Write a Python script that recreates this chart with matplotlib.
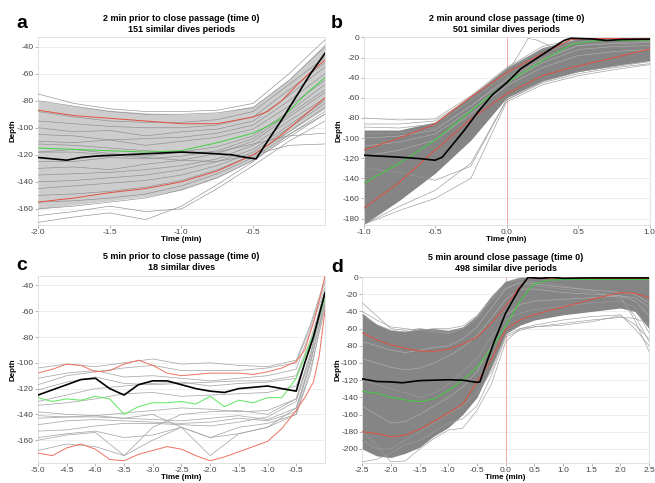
import matplotlib
matplotlib.use('Agg')
import matplotlib.pyplot as plt
import numpy as np

plt.rcParams['font.family'] = ['Liberation Sans', 'DejaVu Sans']
plt.rcParams['axes.unicode_minus'] = False

# ---------------- panel a: 2 min prior ----------------
a_t = [-2.0, -1.75, -1.5, -1.25, -1.0, -0.75, -0.5, -0.4, -0.3, -0.2, -0.1, 0.0]
a_red_hi = [-87, -91, -93, -95, -97, -97, -92, -88, -80, -69, -59, -50]
a_green = [-115, -116, -117, -118, -117, -111, -104, -99, -93, -82, -72, -63]
a_red_lo = [-155, -152, -148, -145, -140, -132, -120, -113, -105, -96, -87, -78]
a_black_t = [-2.0, -1.9, -1.8, -1.7, -1.6, -1.4, -1.2, -1.0, -0.8, -0.65, -0.55,
             -0.48, -0.4, -0.3, -0.2, -0.1, 0.0]
a_black = [-122, -123, -124, -122, -121, -120, -119, -118, -119, -120, -122,
           -123, -110, -94, -77, -60, -45]
a_grey_t = [-2.0, -1.75, -1.5, -1.25, -1.0, -0.75, -0.5, -0.25, 0.0]
a_core_hi = [-80, -84, -87, -89, -90, -89, -84, -64, -38]
a_core_lo = [-160, -157, -154, -151, -146, -137, -124, -103, -86]
a_grey = [
    [-75, -82, -86, -88, -88, -87, -82, -60, -35],
    [-80, -84, -88, -90, -90, -89, -85, -65, -40],
    [-88, -92, -95, -96, -96, -94, -88, -68, -48],
    [-95, -97, -99, -100, -100, -98, -92, -72, -52],
    [-100, -103, -102, -106, -103, -101, -95, -76, -55],
    [-105, -106, -109, -108, -107, -104, -98, -80, -60],
    [-110, -111, -109, -113, -110, -107, -101, -84, -65],
    [-118, -116, -119, -121, -118, -114, -106, -88, -68],
    [-125, -125, -122, -123, -121, -117, -108, -90, -72],
    [-130, -129, -131, -127, -124, -119, -110, -92, -74],
    [-135, -134, -133, -131, -128, -123, -113, -95, -78],
    [-140, -139, -137, -135, -131, -125, -116, -98, -80],
    [-145, -143, -141, -139, -135, -128, -118, -100, -82],
    [-150, -149, -147, -144, -139, -131, -120, -103, -85],
    [-155, -154, -152, -149, -143, -134, -122, -105, -88],
    [-160, -158, -155, -152, -146, -137, -124, -107, -90],
    [-165, -162, -158, -162, -160, -145, -128, -110, -95],
    [-170, -166, -163, -168, -158, -142, -125, -105, -90],
    [-118, -118, -120, -122, -124, -125, -120, -113, -112],
    [-112, -113, -115, -117, -118, -118, -112, -106, -104],
]

# ---------------- panel b: 2 min around ----------------
b_t = [-1.0, -0.75, -0.5, -0.25, 0.0, 0.25, 0.45, 0.6, 0.75, 1.0]
b_red_hi = [-112, -100, -86, -59, -35, -16, -2, -1, -1, -1]
b_green = [-145, -125, -102, -73, -45, -23, -7, -3.5, -3, -2.5]
b_red_lo = [-170, -144, -112, -81, -56, -38, -30, -25, -20, -11.5]
b_black_t = [-1.0, -0.75, -0.6, -0.5, -0.45, -0.3, -0.2, -0.1, 0.0, 0.1, 0.25,
             0.4, 0.45, 0.6, 0.7, 0.8, 1.0]
b_black = [-117, -119, -120.5, -122, -119, -93, -74, -57, -45, -31, -17,
           -3, -0.7, -1.5, -3, -2, -1.6]
b_grey_t = [-1.0, -0.75, -0.5, -0.25, 0.0, 0.25, 0.5, 0.75, 1.0]
b_core_hi = [-92, -92, -84, -58, -30, -10, -1, -1, -1]
b_core_lo = [-186, -162, -135, -102, -60, -43, -34, -28, -23]
b_grey = [
    [-80, -82, -81, -58, -30, -9, -1, -1, -1],
    [-86, -86, -83, -60, -32, -12, -2, -1, -1],
    [-89, -90, -86, -63, -36, -15, -4, -2, -2],
    [-96, -95, -90, -68, -40, -20, -8, -5, -4],
    [-186, -168, -152, -125, -62, -45, -36, -30, -26],
    [-186, -172, -160, -140, -64, -47, -38, -32, -27],
    [-130, -134, -142, -128, -62, -44, -34, -29, -24],
]
b_streak = [
    [-100, -98, -92, -68, -42, -22, -8, -6, -5],
    [-108, -104, -96, -72, -45, -25, -12, -9, -8],
    [-118, -112, -102, -76, -48, -30, -18, -14, -12],
]
b_spike_t = [-0.05, 0.05, 0.15, 0.2, 0.3]
b_spike = [-38, -25, -1, -2, -8]

# ---------------- panel c: 5 min prior ----------------
c_t = [-5.0, -4.75, -4.5, -4.25, -4.0, -3.75, -3.5, -3.25, -3.0, -2.75, -2.5,
       -2.25, -2.0, -1.75, -1.5, -1.25, -1.0, -0.75, -0.5, -0.35, -0.2, -0.1, 0.0]
c_red_hi = [-108, -105, -101, -102, -107, -106, -101, -98, -102, -108, -110,
            -109, -108, -108, -108, -109, -107, -104, -99, -90, -69, -52, -33]
c_green = [-127, -130, -128, -129, -126, -128, -140, -134, -131, -131, -130,
           -132, -126, -134, -129, -131, -127, -127, -112, -95, -78, -64, -50]
c_red_lo = [-170, -172, -166, -163, -167, -175, -176, -171, -168, -165, -167,
            -172, -176, -173, -169, -165, -161, -151, -137, -127, -115, -95, -60]
c_black = [-125, -121, -117, -113, -112, -120, -125, -117, -114, -114, -117,
           -120, -122, -123, -120, -119, -118, -120, -122, -100, -80, -63, -46]
c_grey_t = [-5.0, -4.5, -4.0, -3.5, -3.0, -2.5, -2.0, -1.5, -1.0, -0.5, -0.25, 0.0]
c_grey = [
    [-104, -101, -103, -100, -97, -101, -100, -102, -103, -98, -70, -35],
    [-117, -110, -107, -104, -102, -106, -106, -106, -104, -100, -72, -38],
    [-112, -108, -106, -111, -110, -112, -114, -112, -110, -105, -75, -42],
    [-121, -115, -111, -116, -117, -116, -115, -114, -114, -110, -82, -45],
    [-133, -131, -128, -124, -123, -126, -125, -124, -123, -118, -88, -48],
    [-138, -140, -141, -139, -137, -135, -136, -138, -137, -128, -92, -50],
    [-143, -142, -141, -143, -144, -145, -143, -141, -144, -135, -98, -55],
    [-148, -145, -144, -145, -146, -147, -146, -143, -145, -138, -100, -52],
    [-153, -152, -149, -147, -147, -148, -149, -146, -142, -130, -95, -48],
    [-160, -156, -154, -172, -150, -140, -138, -137, -140, -128, -94, -45],
    [-168, -163, -165, -172, -160, -150, -158, -155, -150, -135, -100, -52],
    [-158, -155, -153, -158, -156, -150, -158, -150, -147, -140, -105, -58],
    [-141, -142, -142, -143, -140, -150, -172, -155, -150, -140, -108, -55],
    [-130, -125, -120, -118, -116, -115, -118, -116, -115, -112, -85, -44],
]

# ---------------- panel d: 5 min around ----------------
d_t = [-2.5, -2.25, -2.0, -1.75, -1.5, -1.25, -1.0, -0.75, -0.5, -0.25, 0.0,
       0.25, 0.4, 0.5, 0.75, 1.0, 1.5, 2.0, 2.25, 2.5]
d_red_hi = [-65, -73, -79, -83, -86, -86.5, -84, -78, -70, -54, -34,
            -11, -1, -1, -1.5, -1.5, -1.5, -1.5, -1.5, -1.5]
d_green = [-133, -135, -140, -143, -145, -142, -132, -120, -105, -83, -57,
           -28, -15, -8, -3.5, -3, -3, -3, -3, -3]
d_red_lo = [-180, -182, -186, -184, -177, -168, -158, -148, -122, -96, -61,
            -50, -46, -44, -39, -35, -26, -18, -19, -24]
d_black_t = [-2.5, -2.25, -2.0, -1.8, -1.5, -1.25, -1.0, -0.75, -0.5, -0.45,
             -0.35, -0.2, 0.0, 0.23, 0.39, 0.6, 0.8, 1.0, 1.5, 2.0, 2.5]
d_black = [-118.5, -121.5, -122, -123, -120.5, -120, -119.5, -120, -122.5, -122,
           -103, -75, -42, -14.6, -0.5, -1.5, -0.5, -1.5, -1, -1, -1]
d_grey_t = [-2.5, -2.25, -2.0, -1.75, -1.5, -1.25, -1.0, -0.75, -0.5, -0.25,
            0.0, 0.25, 0.5, 1.0, 1.5, 2.0, 2.25, 2.5]
d_core_hi = [-42, -55, -62, -63, -60, -60, -62, -58, -45, -22, -5,
             -0.5, -0.5, -0.5, -0.5, -0.5, -0.5, -0.5]
d_core_lo = [-200, -208, -210, -205, -198, -185, -175, -160, -140, -105, -66,
             -56, -50, -44, -40, -36, -40, -60]
d_grey = [
    [-30, -45, -60, -62, -60, -62, -65, -60, -48, -26, -6, -1, -1, -1, -1, -1, -1, -2],
    [-215, -212, -205, -195, -190, -180, -170, -165, -150, -115, -70, -62, -58, -54, -50, -47, -48, -55],
    [-180, -195, -215, -214, -200, -188, -178, -176, -155, -125, -75, -60, -56, -50, -46, -44, -60, -80],
    [-40, -50, -58, -60, -62, -64, -66, -60, -46, -28, -12, -8, -10, -14, -18, -22, -50, -87],
    [-45, -55, -62, -64, -62, -60, -60, -57, -45, -24, -6, -3, -6, -10, -16, -25, -45, -75],
    [-120, -125, -130, -135, -140, -135, -125, -110, -95, -70, -50, -42, -38, -34, -30, -28, -35, -65],
    [-190, -200, -200, -190, -180, -170, -160, -150, -135, -110, -68, -60, -58, -56, -52, -45, -55, -72],
]
d_streak = [
    [-75, -80, -85, -88, -85, -82, -80, -72, -58, -36, -14, -6, -8, -12, -15, -18, -20, -30],
    [-95, -100, -105, -108, -106, -100, -92, -82, -68, -48, -26, -14, -14, -18, -20, -22, -24, -35],
    [-150, -160, -170, -168, -160, -150, -140, -128, -110, -80, -45, -32, -28, -26, -24, -22, -28, -45],
]

RED = '#e2513f'
GREEN = '#3fcf3f'


def style_axes(ax, xlim, ylim, xticks, yticks):
    ax.set_xlim(xlim)
    ax.set_ylim(ylim)
    ax.set_xticks(xticks)
    ax.set_xticklabels([f'{v:.1f}' for v in xticks])
    ax.set_yticks(yticks)
    ax.grid(axis='y', color='#ebebeb', lw=0.6)
    ax.set_axisbelow(True)
    for s in ax.spines.values():
        s.set_color('#dcdcdc')
        s.set_linewidth(0.6)
    ax.tick_params(labelsize=6, colors='#444444', length=2, width=0.5, pad=1)
    ax.tick_params(color='#999999')
    ax.set_xlabel('Time (min)', fontsize=5.8, fontweight='bold', labelpad=0)
    ax.set_ylabel('Depth', fontsize=5.8, fontweight='bold', labelpad=0)


def draw_panel(ax, grey_t, grey, core_hi, core_lo, core_col, grey_col,
               t, red_hi, green, red_lo, black_t, black):
    ax.axvline(0, color='#f2a9a3', lw=0.7, zorder=1)
    ax.fill_between(grey_t, core_lo, core_hi, color=core_col, lw=0, zorder=2)
    for g in grey:
        ax.plot(grey_t, g, color=grey_col, lw=0.45, zorder=3)
    ax.plot(t, red_hi, color=RED, lw=0.7, zorder=4)
    ax.plot(t, red_lo, color=RED, lw=0.7, zorder=4)
    ax.plot(t, green, color=GREEN, lw=0.7, zorder=4)
    ax.plot(black_t, black, color='black', lw=1.2, zorder=5)


fig = plt.figure(figsize=(6.55, 4.83), dpi=100)
ax_a = fig.add_axes([0.058, 0.534, 0.438, 0.389])
ax_b = fig.add_axes([0.555, 0.534, 0.437, 0.389])
ax_c = fig.add_axes([0.058, 0.042, 0.438, 0.387])
ax_d = fig.add_axes([0.553, 0.042, 0.438, 0.385])

draw_panel(ax_a, a_grey_t, a_grey, a_core_hi, a_core_lo, '#cdcdcd', '#8e8e8e',
           a_t, a_red_hi, a_green, a_red_lo, a_black_t, a_black)
style_axes(ax_a, (-2.0, 0.0), (-172, -33), [-2.0, -1.5, -1.0, -0.5],
           range(-160, -39, 20))
ax_a.set_title('2 min prior to close passage (time 0)\n151 similar dives periods',
               fontsize=6.5, fontweight='bold', pad=4, linespacing=1.3)

draw_panel(ax_b, b_grey_t, b_grey, b_core_hi, b_core_lo, '#858585', '#999999',
           b_t, b_red_hi, b_green, b_red_lo, b_black_t, b_black)
for s in b_streak:
    ax_b.plot(b_grey_t, s, color='#b5b5b5', lw=0.4, zorder=3)
ax_b.plot(b_spike_t, b_spike, color='#999999', lw=0.45, zorder=3)
style_axes(ax_b, (-1.0, 1.0), (-186.5, 0.3), [-1.0, -0.5, 0.0, 0.5, 1.0],
           range(-180, 1, 20))
ax_b.set_title('2 min around close passage (time 0)\n501 similar dives periods',
               fontsize=6.5, fontweight='bold', pad=4, linespacing=1.3)

ax_c.axvline(0, color='#f2a9a3', lw=0.7, zorder=1)
for g in c_grey:
    ax_c.plot(c_grey_t, g, color='#a8a8a8', lw=0.55, zorder=3)
ax_c.plot(c_t, c_red_hi, color='#f07060', lw=0.7, zorder=4)
ax_c.plot(c_t, c_red_lo, color='#f07060', lw=0.7, zorder=4)
ax_c.plot(c_t, c_green, color='#6fe86f', lw=0.8, zorder=4)
ax_c.plot(c_t, c_black, color='black', lw=1.2, zorder=5)
style_axes(ax_c, (-5.0, 0.0), (-177.5, -32.5),
           [-5.0, -4.5, -4.0, -3.5, -3.0, -2.5, -2.0, -1.5, -1.0, -0.5],
           range(-160, -39, 20))
ax_c.set_title('5 min prior to close passage (time 0)\n18 similar dives',
               fontsize=6.5, fontweight='bold', pad=4, linespacing=1.3)

draw_panel(ax_d, d_grey_t, d_grey, d_core_hi, d_core_lo, '#858585', '#9c9c9c',
           d_t, d_red_hi, d_green, d_red_lo, d_black_t, d_black)
for s in d_streak:
    ax_d.plot(d_grey_t, s, color='#b5b5b5', lw=0.4, zorder=3)
style_axes(ax_d, (-2.5, 2.5), (-216, 0.3),
           [-2.5, -2.0, -1.5, -1.0, -0.5, 0.0, 0.5, 1.0, 1.5, 2.0, 2.5],
           range(-200, 1, 20))
ax_d.set_title('5 min around close passage (time 0)\n498 similar dive periods',
               fontsize=6.5, fontweight='bold', pad=4, linespacing=1.3)

for letter, x, y in [('a', 22, 23), ('b', 337, 24), ('c', 22, 265), ('d', 337, 268)]:
    fig.text(x / 655, 1 - y / 483, letter, fontsize=14, fontweight='bold',
             ha='center', va='center')

fig.savefig('out.png', dpi=100)
